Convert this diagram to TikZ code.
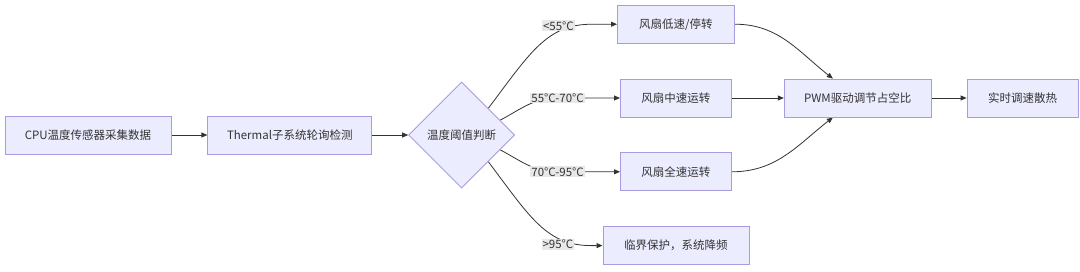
\documentclass[tikz,border=0pt]{standalone}
\usepackage{fontspec}
\setmainfont{Noto Sans CJK SC}
\usetikzlibrary{arrows.meta, positioning, shapes.geometric, backgrounds}
\definecolor{boxfill}{HTML}{ECECFF}
\definecolor{boxline}{HTML}{A99BE0}
\definecolor{ink}{HTML}{333333}
\definecolor{lblfill}{HTML}{E8E8E8}

\begin{document}
\begin{tikzpicture}[x=1pt, y=1pt, text=ink,
    every node/.style={font=\fontsize{11.5}{14}\selectfont},
    box/.style={draw=boxline, fill=boxfill, line width=0.8pt, minimum height=38pt, inner sep=0pt},
    decision/.style={diamond, draw=boxline, fill=boxfill, line width=0.8pt, minimum width=106pt, minimum height=106pt, inner sep=0pt},
    lbl/.style={fill=lblfill, inner sep=1pt},
    edge/.style={draw=ink, line width=0.8pt, -{Triangle[length=6pt, width=5pt]}}]
    \useasboundingbox (0,0) rectangle (1080,-271);
    % Nodes
    \node[box, minimum width=166pt] (cpu) at (88,-135) {CPU温度传感器采集数据};
    \node[box, minimum width=164pt, right=36pt of cpu] (thermal) {Thermal子系统轮询检测};
    \node[decision, right=36pt of thermal] (judge) {温度阈值判断};
    \node[box, minimum width=111pt, right=105pt of judge, yshift=37pt] (midspeed) {风扇中速运转};
    \node[box, minimum width=117pt, above=35pt of midspeed] (lowspeed) {风扇低速/停转};
    \node[box, minimum width=111pt, below=35pt of midspeed] (fullspeed) {风扇全速运转};
    \node[box, minimum width=146pt, below=35pt of fullspeed] (critical) {临界保护，系统降频};
    \node[box, minimum width=147pt, right=52pt of midspeed] (pwm) {PWM驱动调节占空比};
    \node[box, minimum width=111pt, right=35pt of pwm] (cooling) {实时调速散热};

    % Labels
    \node[lbl, left=42pt of lowspeed, yshift=-1.5pt] (lt55) {<55°C};
    \node[lbl, left=35pt of midspeed] (r5570) {55°C-70°C};
    \node[lbl, left=35pt of fullspeed] (r7095) {70°C-95°C};
    \node[lbl, left=28pt of critical, yshift=1.5pt] (gt95) {>95°C};
    \coordinate (lowin) at ([xshift=-25pt]lowspeed.west);
    \coordinate (critin) at ([xshift=-11pt]critical.west);

    % Arrows
    \begin{scope}[on background layer]
    \fill[white] (0,0) rectangle (1080,-271);
    \draw[edge] (cpu) -- (thermal);
    \draw[edge] (thermal) -- (judge);
    \draw[edge] (judge.45) .. controls +(53:70) and +(-45,0) .. (lowin) -- (lowspeed);
    \draw[edge] (judge.21) to[out=28, in=180] (r5570.center) -- (midspeed);
    \draw[edge] (judge.-21) to[out=-28, in=180] (r7095.center) -- (fullspeed);
    \draw[edge] (judge.-45) .. controls +(-53:70) and +(-45,0) .. (critin) -- (critical);
    \draw[edge] (lowspeed) to[out=0, in=142] (pwm.142);
    \draw[edge] (midspeed) -- (pwm);
    \draw[edge] (fullspeed) to[out=0, in=-142] (pwm.-142);
    \draw[edge] (pwm) -- (cooling);
    \end{scope}
\end{tikzpicture}
\end{document}
